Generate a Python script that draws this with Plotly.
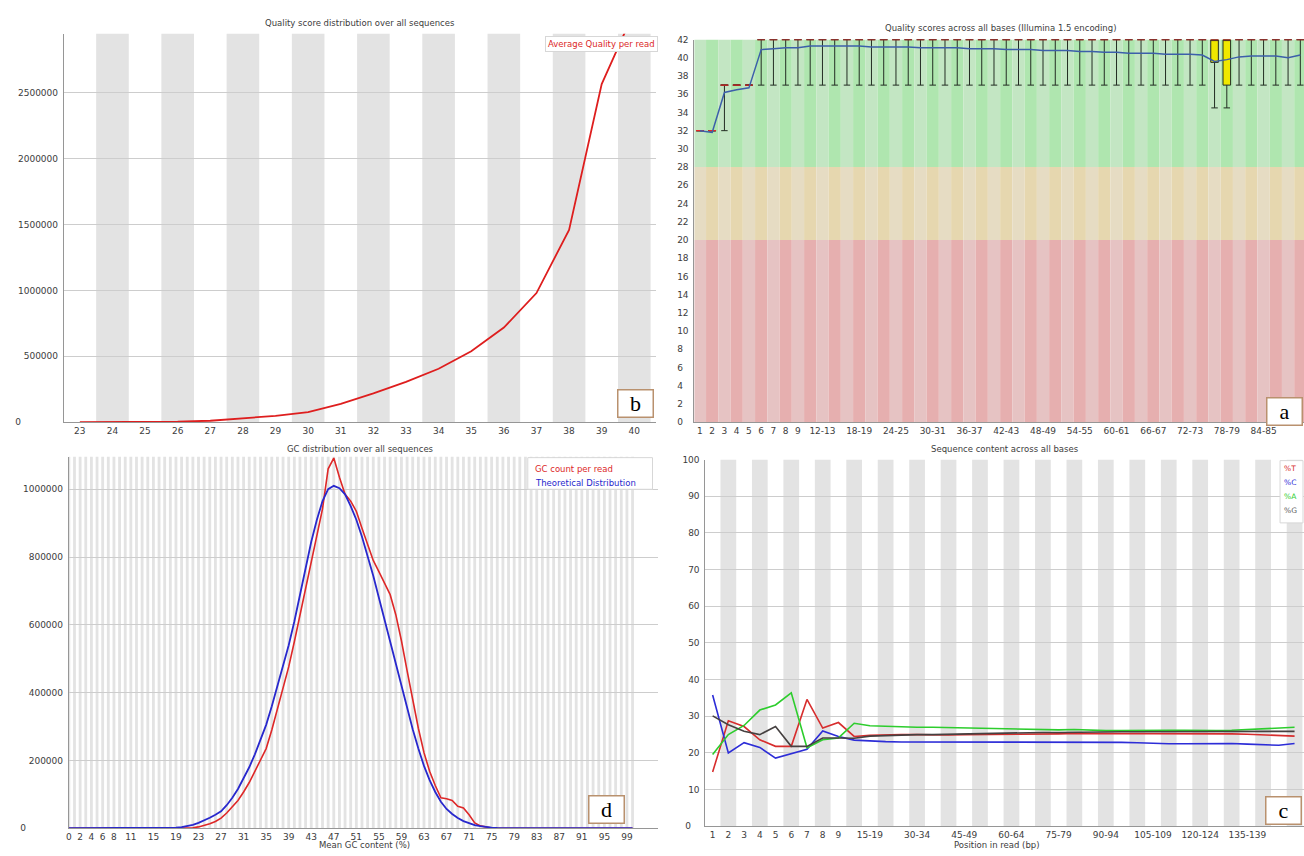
import plotly.graph_objects as go

W, H = 1304, 856
FONT = "DejaVu Sans"
TXT = "#3c3c3c"
NB = "&nbsp;"

# ---------------- Panel b : quality score distribution ----------------
qual_scores = [23, 24, 25, 26, 27, 28, 29, 30, 31, 32, 33, 34, 35, 36, 37, 38, 39, 40]
qual_counts = [0, 1000, 1500, 3000, 10000, 30000, 47500, 75000, 137500, 217500,
               305000, 405000, 537500, 717500, 980000, 1460000, 2567500, 3120000]
qual_yticks = [0, 500000, 1000000, 1500000, 2000000, 2500000]

# ---------------- Panel a : per-base quality ----------------
a_labels = [str(i) for i in range(1, 10)] + [f"{s}-{s+1}" for s in range(10, 92, 2)]
a_mean = [32.0, 31.8, 36.2, 36.5, 36.7, 40.9, 41.0, 41.1, 41.1, 41.3,
          41.3, 41.3, 41.3, 41.3, 41.2, 41.2, 41.2, 41.2, 41.1, 41.1,
          41.1, 41.1, 41.0, 41.0, 41.0, 40.9, 40.9, 40.9, 40.8, 40.8,
          40.8, 40.7, 40.7, 40.6, 40.6, 40.5, 40.5, 40.5, 40.4, 40.4,
          40.4, 40.3, 39.6, 39.8, 40.1, 40.2, 40.2, 40.2, 40.0, 40.3]
a_median = [32, 32, 37, 37, 37, 42, 42, 42, 42, 42,
            42, 42, 42, 42, 42, 42, 42, 42, 42, 42,
            42, 42, 42, 42, 42, 42, 42, 42, 42, 42,
            42, 42, 42, 42, 42, 42, 42, 42, 42, 42,
            42, 42, 42, 42, 42, 42, 42, 42, 42, 42]
a_q1 = [32, 32, 37, 37, 37, 42, 42, 42, 42, 42,
        42, 42, 42, 42, 42, 42, 42, 42, 42, 42,
        42, 42, 42, 42, 42, 42, 42, 42, 42, 42,
        42, 42, 42, 42, 42, 42, 42, 42, 42, 42,
        42, 42, 39.5, 37, 42, 42, 42, 42, 42, 42]
a_q3 = [32, 32, 37, 37, 37, 42, 42, 42, 42, 42,
        42, 42, 42, 42, 42, 42, 42, 42, 42, 42,
        42, 42, 42, 42, 42, 42, 42, 42, 42, 42,
        42, 42, 42, 42, 42, 42, 42, 42, 42, 42,
        42, 42, 42, 42, 42, 42, 42, 42, 42, 42]
a_p10 = [32, 32, 32, 37, 37, 37, 37, 37, 37, 37,
         37, 37, 37, 37, 37, 37, 37, 37, 37, 37,
         37, 37, 37, 37, 37, 37, 37, 37, 37, 37,
         37, 37, 37, 37, 37, 37, 37, 37, 37, 37,
         37, 37, 34.5, 34.5, 37, 37, 37, 37, 37, 37]
a_p90 = [32, 32, 37, 37, 37, 42, 42, 42, 42, 42,
         42, 42, 42, 42, 42, 42, 42, 42, 42, 42,
         42, 42, 42, 42, 42, 42, 42, 42, 42, 42,
         42, 42, 42, 42, 42, 42, 42, 42, 42, 42,
         42, 42, 42, 42, 42, 42, 42, 42, 42, 42]
a_yticks = [0, 2, 4, 6, 8, 10, 12, 14, 16, 18, 20, 22, 24, 26, 28, 30, 32, 34, 36, 38, 40, 42]
a_bands = [(0, 20, "rgb(230,175,175)", "rgb(230,195,195)"),
           (20, 28, "rgb(230,215,175)", "rgb(230,220,195)"),
           (28, 42, "rgb(175,230,175)", "rgb(195,230,195)")]

# ---------------- Panel d : GC distribution ----------------
gc_pct = list(range(0, 101))
gc_count = [0] * 21 + [
    500, 1500, 4000, 8000, 13000, 20000, 30000, 45000, 62000, 82000,          # 21-30
    107000, 135000, 168000, 200000, 235000, 290000, 350000, 410000, 476000, 550000,  # 31-40
    630000, 710000, 786000, 870000, 942000, 1060000, 1092000, 1035000, 985000, 965000,  # 41-50
    935000, 885000, 835000, 790000, 757000, 722000, 689000, 630000, 553000, 465000,  # 51-60
    378000, 295000, 223000, 168000, 126000, 90000, 87000, 82000, 65000, 60000,  # 61-70
    40000, 16000, 7000, 3000, 1000] + [0] * 25                                 # 71-75, 76-100
gc_theory = [0] * 17 + [
    500, 1000, 2000, 3500, 6000, 10000, 16000, 23000, 31000, 40000,           # 17-26
    50000, 68000, 90000, 116000, 146000, 180000, 218000, 260000, 305000, 360000,  # 27-36
    420000, 480000, 540000, 610000, 690000, 770000, 845000, 910000, 965000, 1000000,  # 37-46
    1010000, 1003000, 985000, 950000, 910000, 860000, 805000, 745000, 680000, 615000,  # 47-56
    553000, 485000, 420000, 355000, 292000, 235000, 184000, 142000, 107000, 78000,  # 57-66
    57000, 42000, 30000, 21000, 14000, 9000, 6000, 3500, 2000, 1000,          # 67-76
    500] + [0] * 23                                                            # 77, 78-100
gc_ticks = [0, 2, 4, 6, 8, 11, 15, 19, 23, 27, 31, 35, 39, 43, 47, 51, 55, 59,
            63, 67, 71, 75, 79, 83, 87, 91, 95, 99]
gc_yticks = [0, 200000, 400000, 600000, 800000, 1000000]

# ---------------- Panel c : per-base sequence content ----------------
c_labels = [str(i) for i in range(1, 10)] + [f"{s}-{s+4}" for s in range(10, 150, 5)] + ["150-151"]
pct_T = [14.8, 28.8, 27.2, 23.6, 21.8, 21.8, 34.6, 26.8, 28.3, 24.5,
         24.8, 25.0, 25.0, 25.0, 24.9, 24.9, 25.0, 25.0, 25.1, 25.1,
         25.2, 25.2, 25.2, 25.3, 25.3, 25.3, 25.4, 25.4, 25.4, 25.3,
         25.3, 25.3, 25.2, 25.2, 25.1, 25.0, 24.9, 24.6]
pct_C = [35.8, 20.0, 22.8, 21.5, 18.6, 19.7, 21.0, 26.0, 24.5, 23.5,
         23.2, 23.1, 23.0, 23.0, 23.0, 23.0, 23.0, 23.1, 23.0, 23.0,
         23.0, 23.0, 23.0, 23.0, 22.9, 22.9, 22.9, 22.8, 22.6, 22.5,
         22.5, 22.6, 22.7, 22.6, 22.4, 22.2, 22.1, 22.6]
pct_A = [19.6, 25.0, 27.5, 31.7, 33.1, 36.4, 21.4, 23.6, 24.1, 28.1,
         27.4, 27.2, 27.1, 27.0, 27.0, 26.9, 26.8, 26.6, 26.5, 26.4,
         26.4, 26.3, 26.3, 26.4, 26.2, 26.1, 26.1, 26.2, 26.3, 26.2,
         26.2, 26.1, 26.1, 26.2, 26.4, 26.6, 26.9, 27.0]
pct_G = [30.1, 27.7, 25.9, 25.0, 27.2, 21.8, 21.8, 24.1, 24.1, 24.0,
         24.6, 24.8, 24.9, 25.0, 25.0, 25.1, 25.2, 25.3, 25.4, 25.5,
         25.5, 25.6, 25.6, 25.7, 25.7, 25.7, 25.8, 25.8, 25.8, 25.8,
         25.8, 25.8, 25.8, 25.8, 25.7, 25.7, 25.8, 25.9]
c_yticks = [0, 10, 20, 30, 40, 50, 60, 70, 80, 90, 100]

# ---------------- layout helpers ----------------
def xdom(x0, x1):
    return [x0 / W, x1 / W]


def ydom(top, bot):
    return [1 - bot / H, 1 - top / H]


STRIPE = "rgb(227,227,227)"
GRID = "rgb(205,205,205)"
AXLINE = "rgb(150,150,150)"

fig = go.Figure()
shapes = []

# ---- panel b ----
for q in qual_scores:
    if q % 2 == 0:
        shapes.append(dict(type="rect", xref="x", yref="y domain", x0=q - 0.5, x1=q + 0.5,
                           y0=0, y1=1, fillcolor=STRIPE, line_width=0, layer="below"))
fig.add_trace(go.Scatter(x=qual_scores, y=qual_counts, mode="lines",
                         line=dict(color="rgb(222,30,30)", width=1.8),
                         xaxis="x", yaxis="y", showlegend=False))

# ---- panel a ----
a_idx = list(range(len(a_labels)))
for i in a_idx:
    for lo, hi, dark, light in a_bands:
        shapes.append(dict(type="rect", xref="x2", yref="y2", x0=i - 0.5, x1=i + 0.5,
                           y0=lo, y1=hi, fillcolor=(light if i % 2 == 0 else dark),
                           line_width=0, layer="below"))
fig.add_trace(go.Box(x=a_idx, q1=a_q1, median=a_median, q3=a_q3,
                     lowerfence=a_p10, upperfence=a_p90,
                     fillcolor="rgb(240,232,0)", line=dict(color="rgb(35,45,35)", width=1),
                     width=0.62, whiskerwidth=0.85, boxpoints=False,
                     xaxis="x2", yaxis="y2", showlegend=False))
med_x, med_y = [], []
for i, m in zip(a_idx, a_median):
    med_x += [i - 0.32, i + 0.32, None]
    med_y += [m, m, None]
fig.add_trace(go.Scatter(x=med_x, y=med_y, mode="lines",
                         line=dict(color="rgb(225,40,40)", width=1.3),
                         xaxis="x2", yaxis="y2", showlegend=False))
fig.add_trace(go.Scatter(x=a_idx, y=a_mean, mode="lines",
                         line=dict(color="rgb(60,95,170)", width=1.5),
                         xaxis="x2", yaxis="y2", showlegend=False))

# ---- panel d ----
for v in gc_pct:
    shapes.append(dict(type="rect", xref="x3", yref="y3 domain", x0=v - 0.25, x1=v + 0.25,
                       y0=0, y1=1, fillcolor=STRIPE, line_width=0, layer="below"))
fig.add_trace(go.Scatter(x=gc_pct, y=gc_count, mode="lines",
                         line=dict(color="rgb(222,40,40)", width=1.6),
                         xaxis="x3", yaxis="y3", showlegend=False))
fig.add_trace(go.Scatter(x=gc_pct, y=gc_theory, mode="lines",
                         line=dict(color="rgb(40,40,205)", width=1.8),
                         xaxis="x3", yaxis="y3", showlegend=False))

# ---- panel c ----
c_idx = list(range(len(c_labels)))
for i in c_idx:
    if i % 2 == 1:
        shapes.append(dict(type="rect", xref="x4", yref="y4 domain", x0=i - 0.5, x1=i + 0.5,
                           y0=0, y1=1, fillcolor=STRIPE, line_width=0, layer="below"))
for name, vals, col in [("%T", pct_T, "rgb(215,45,45)"), ("%C", pct_C, "rgb(45,45,215)"),
                        ("%A", pct_A, "rgb(45,205,45)"), ("%G", pct_G, "rgb(70,65,65)")]:
    fig.add_trace(go.Scatter(x=c_idx, y=vals, mode="lines", name=name,
                             line=dict(color=col, width=1.6),
                             xaxis="x4", yaxis="y4", showlegend=False))

# ---------------- axes ----------------
tickfont = dict(family=FONT, size=9, color=TXT)
base_x = dict(showline=True, linecolor=AXLINE, linewidth=1, zeroline=False, showgrid=False,
              ticks="", tickfont=tickfont, fixedrange=True)
base_y = dict(showline=True, linecolor=AXLINE, linewidth=1, zeroline=False, showgrid=True,
              gridcolor=GRID, gridwidth=1, ticks="", tickfont=tickfont, ticklabelstandoff=3,
              fixedrange=True)

a_tick_idx = [i for i in a_idx if i < 9 or (i - 10) % 3 == 0]
c_tick_idx = [i for i in c_idx if i < 9 or (i - 10) % 3 == 0]


def ylab(v, zero_pad):
    # the "0" label sits further left in the reference
    return str(v) + NB * zero_pad if v == 0 else str(v)


fig.update_layout(
    width=W, height=H, margin=dict(l=0, r=0, t=0, b=0),
    paper_bgcolor="white", plot_bgcolor="white",
    font=dict(family=FONT, size=9, color=TXT),
    boxmode="overlay",
    xaxis=dict(base_x, domain=xdom(61, 655), anchor="y", range=[22.51, 40.68],
               tickvals=qual_scores, ticktext=[str(q) for q in qual_scores]),
    yaxis=dict(base_y, domain=ydom(29, 422), anchor="x", range=[0, 2950000],
               tickvals=qual_yticks, ticktext=[ylab(v, 13) for v in qual_yticks]),
    xaxis2=dict(base_x, domain=xdom(693, 1304), anchor="y2", range=[-0.45, 49.3],
                tickvals=a_tick_idx, ticktext=[a_labels[i] for i in a_tick_idx]),
    yaxis2=dict(base_y, domain=ydom(35, 422), anchor="x2", range=[0, 42], showgrid=False,
                tickvals=a_yticks,
                ticktext=[str(v) + (NB * 2 if v < 10 else "") for v in a_yticks]),
    xaxis3=dict(base_x, domain=xdom(66, 657), anchor="y3", range=[0, 104.6],
                tickvals=gc_ticks, ticktext=[str(t) for t in gc_ticks]),
    yaxis3=dict(base_y, domain=ydom(457, 833), anchor="x3", range=[0, 1096000],
                tickvals=gc_yticks, ticktext=[ylab(v, 13) for v in gc_yticks]),
    xaxis4=dict(base_x, domain=xdom(704, 1304), anchor="y4", range=[-0.46, 37.6],
                tickvals=c_tick_idx, ticktext=[c_labels[i] for i in c_tick_idx]),
    yaxis4=dict(base_y, domain=ydom(460, 831), anchor="x4", range=[0, 100],
                tickvals=c_yticks, ticktext=[ylab(v, 3) for v in c_yticks]),
)

# ---------------- annotations ----------------
ann = []


def text_at(txt, x, y, size=8.5, color=TXT, xanchor="center", **kw):
    ann.append(dict(text=txt, x=x / W, y=1 - y / H, xref="paper", yref="paper",
                    xanchor=xanchor, yanchor="middle", showarrow=False,
                    font=dict(family=FONT, size=size, color=color), **kw))


# titles
text_at("Quality score distribution over all sequences", 358, 18)
text_at("Quality scores across all bases (Illumina 1.5 encoding)", 1000, 23)
text_at("GC distribution over all sequences", 358, 449)
text_at("Sequence content across all bases", 1004, 449)
# axis titles
text_at("Mean GC content (%)", 362, 850)
text_at("Position in read (bp)", 996, 850)

# legend b
ann.append(dict(text="Average Quality per read", x=657 / W, y=1 - 31 / H, xref="paper",
                yref="paper", xanchor="right", yanchor="top", showarrow=False,
                font=dict(family=FONT, size=8.5, color="rgb(220,40,40)"),
                bgcolor="white", bordercolor="rgb(215,215,215)", borderwidth=1, borderpad=2))

# legend d
shapes.append(dict(type="rect", xref="paper", yref="paper", x0=526 / W, x1=651 / W,
                   y0=1 - 490 / H, y1=1 - 458 / H, fillcolor="white",
                   line=dict(color="rgb(215,215,215)", width=1), layer="above"))
text_at("GC count per read", 531, 469, color="rgb(220,40,40)", xanchor="left")
text_at("Theoretical Distribution", 531, 484, color="rgb(40,40,205)", xanchor="left")

# legend c
shapes.append(dict(type="rect", xref="paper", yref="paper", x0=1280 / W, x1=1303 / W,
                   y0=1 - 524 / H, y1=1 - 461 / H, fillcolor="white",
                   line=dict(color="rgb(215,215,215)", width=1), layer="above"))
for lab, yy, col in [("%T", 469, "rgb(215,45,45)"), ("%C", 483, "rgb(45,45,215)"),
                     ("%A", 497, "rgb(45,205,45)"), ("%G", 511, "rgb(90,90,90)")]:
    text_at(lab, 1282, yy, size=7.5, color=col, xanchor="left")

# panel letters
for letter, cx, cy in [("b", 634, 403), ("a", 1284, 411), ("d", 605, 814), ("c", 1283, 815)]:
    ann.append(dict(text=letter, x=cx / W, y=1 - cy / H, xref="paper", yref="paper",
                    xanchor="center", yanchor="middle", showarrow=False,
                    font=dict(family="Liberation Serif", size=22, color="black"),
                    bgcolor="white", bordercolor="rgb(185,145,110)", borderwidth=1.5,
                    borderpad=0, width=34, height=26))

fig.update_layout(annotations=ann, shapes=shapes)
fig.write_html(
    "out.html",
    config={"displayModeBar": False},
    post_script="document.body.style.margin='0';document.body.style.overflow='hidden';",
)
